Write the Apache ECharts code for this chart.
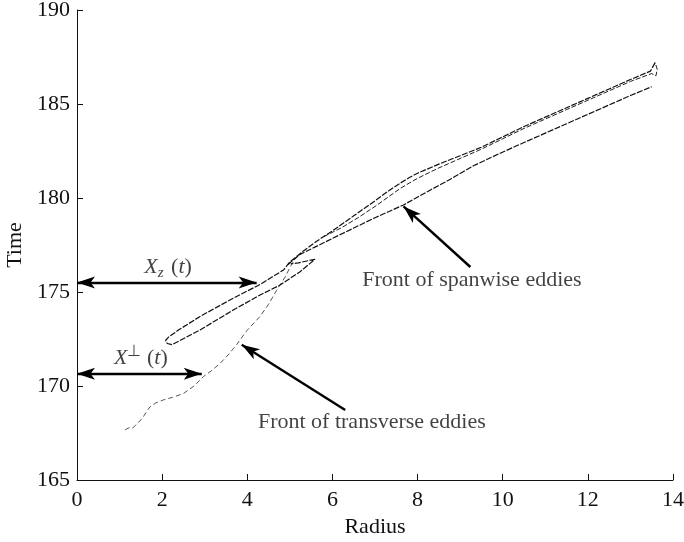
<!DOCTYPE html>
<html>
<head>
<meta charset="utf-8">
<script src="https://cdn.jsdelivr.net/npm/echarts@6/dist/echarts.min.js"></script>
<style>
  html, body { margin: 0; padding: 0; background: #fff; }
  #chart { width: 684px; height: 542px; }
</style>
</head>
<body>
<div id="chart"></div>
<script>
// Axis ranges and ticks
const radiusTicks = [0, 2, 4, 6, 8, 10, 12, 14];
const timeTicks = [165, 170, 175, 180, 185, 190];

// Front of transverse eddies: [radius, time]
const transverseFront = [
  [1.13, 167.66], [1.2, 167.76], [1.26, 167.8], [1.31, 167.77], [1.38, 167.92],
  [1.5, 168.2], [1.56, 168.37], [1.65, 168.7], [1.72, 168.9], [1.85, 169.1],
  [2.03, 169.26], [2.25, 169.4], [2.5, 169.6], [2.75, 170.0], [2.97, 170.5],
  [3.15, 170.8], [3.36, 171.2], [3.55, 171.65], [3.75, 172.2], [3.99, 172.95],
  [4.3, 173.7], [4.5, 174.35], [4.69, 175.1], [4.89, 175.8], [5.0, 176.3], [5.08, 176.6]
];

// Spanwise front, outer contour: upper line down to the closed lobe and back
const spanwiseUpper = [
  [13.58, 187.2], [13.47, 186.75], [13.0, 186.3], [12.5, 185.8], [12.0, 185.3],
  [11.5, 184.8], [11.0, 184.3], [10.5, 183.8], [10.0, 183.25], [9.5, 182.7],
  [9.0, 182.25], [8.5, 181.8], [8.0, 181.32], [7.8, 181.08], [7.6, 180.8],
  [7.3, 180.35], [7.0, 179.85], [6.5, 179.05], [6.0, 178.25], [5.63, 177.7],
  [5.3, 177.15], [5.0, 176.6], [4.85, 176.17], [4.3, 175.4], [3.67, 174.67],
  [2.89, 173.7], [2.4, 173.0], [2.15, 172.6], [2.08, 172.42], [2.12, 172.26],
  [2.23, 172.2], [2.89, 172.98], [3.67, 174.04], [4.3, 174.84], [4.77, 175.37],
  [5.24, 176.08], [5.59, 176.74], [5.2, 176.55], [5.02, 176.5]
];

// Spanwise front, inner sheet next to the upper line
const spanwiseInner = [
  [5.8, 177.95], [6.2, 178.4], [6.6, 178.95], [7.0, 179.55], [7.6, 180.52],
  [8.0, 181.05], [8.5, 181.6], [9.0, 182.1], [9.5, 182.6], [10.0, 183.15],
  [10.5, 183.7], [11.0, 184.2], [11.5, 184.7], [12.0, 185.2], [12.5, 185.7],
  [13.0, 186.2], [13.5, 186.62], [13.6, 186.5], [13.63, 186.85], [13.58, 187.2]
];

// Spanwise front, lower line
const spanwiseLower = [
  [4.95, 176.45], [5.24, 177.0], [5.6, 177.4], [6.0, 177.85], [6.5, 178.4],
  [7.0, 178.95], [7.67, 179.63], [8.2, 180.3], [8.77, 181.0], [9.3, 181.7],
  [9.94, 182.38], [10.5, 182.95], [11.0, 183.45], [11.5, 183.95], [12.0, 184.45],
  [12.5, 184.95], [13.0, 185.45], [13.5, 185.92]
];

// Annotation arrows: [startRadius, startTime, endRadius, endTime, doubleHeaded]
const arrows = [
  [0, 175.5, 4.22, 175.5, true],
  [0, 170.65, 2.93, 170.65, true],
  [6.3, 168.72, 3.87, 172.2, false],
  [9.24, 176.33, 7.67, 179.55, false]
];

// Annotation texts: [radius, time, text]
const notes = [
  [2.14, 176.3, '{i|X}{sub|z}{n| (}{i|t}{n|)}'],
  [1.5, 171.5, '{i|X}{sup|⊥}{n| (}{i|t}{n|)}'],
  [6.7, 175.62, 'Front of spanwise eddies'],
  [4.25, 168.05, 'Front of transverse eddies']
];

const FONT = "'Liberation Serif', 'Times New Roman', serif";
const INK = '#111';
const FS = 22;

const chart = echarts.init(document.getElementById('chart'), null, { renderer: 'canvas' });

const axisCommon = {
  axisLine: { show: true, lineStyle: { color: INK, width: 1 } },
  axisTick: { show: true, inside: true, length: 6, lineStyle: { color: INK, width: 1 } },
  splitLine: { show: false },
  axisLabel: { color: INK, fontFamily: FONT, fontSize: FS },
  nameTextStyle: { color: INK, fontFamily: FONT, fontSize: FS }
};

const curve = (name, data, color, width, dash) => ({
  name, type: 'line', data, showSymbol: false, symbol: 'none',
  smooth: false, silent: true, animation: false,
  lineStyle: { color, width, type: dash }
});

const textRich = {
  n: { fontFamily: FONT, fontSize: FS, color: INK },
  i: { fontFamily: FONT, fontSize: FS, fontStyle: 'italic', color: INK },
  sub: { fontFamily: FONT, fontSize: 15, fontStyle: 'italic', color: INK, padding: [11, 2, 0, 0] },
  sup: { fontFamily: FONT, fontSize: 16, color: INK, padding: [0, 0, 12, 0] }
};

chart.setOption({
  backgroundColor: '#fff',
  animation: false,
  grid: { left: 77, right: 11, top: 10, bottom: 62, outerBoundsMode: 'none', containLabel: false },
  xAxis: Object.assign({}, axisCommon, {
    type: 'value', min: radiusTicks[0], max: radiusTicks[radiusTicks.length - 1],
    interval: radiusTicks[1] - radiusTicks[0],
    name: 'Radius', nameLocation: 'middle', nameGap: 35,
    axisLabel: Object.assign({}, axisCommon.axisLabel, { margin: 9 })
  }),
  yAxis: Object.assign({}, axisCommon, {
    type: 'value', min: timeTicks[0], max: timeTicks[timeTicks.length - 1],
    interval: timeTicks[1] - timeTicks[0],
    name: 'Time', nameLocation: 'middle', nameGap: 49, nameRotate: 90,
    axisLabel: Object.assign({}, axisCommon.axisLabel, { margin: 7 })
  }),
  series: [
    curve('transverse', transverseFront, '#555', 1, [5, 3]),
    curve('spanwiseUpper', spanwiseUpper, '#111', 1.2, [6, 1.5]),
    curve('spanwiseInner', spanwiseInner, '#222', 1, [5, 2]),
    curve('spanwiseLower', spanwiseLower, '#111', 1.2, [6, 1.5]),
    {
      name: 'arrows', type: 'line', data: [], silent: true, animation: false,
      markLine: {
        silent: true, animation: false,
        symbol: ['none', 'arrow'], symbolSize: [9, 18],
        label: { show: false },
        lineStyle: { color: '#000', width: 2.4, type: 'solid' },
        data: arrows.map(a => [
          { coord: [a[0], a[1]], symbol: a[4] ? 'arrow' : 'none', symbolSize: [9, 18] },
          { coord: [a[2], a[3]], symbol: 'arrow', symbolSize: [9, 18] }
        ])
      }
    },
    {
      name: 'notes', type: 'scatter', silent: true, animation: false,
      symbolSize: 0,
      data: notes.map((n, k) => ({
        value: [n[0], n[1]], text: n[2],
        // captions start at their anchor, the X labels are centred on it
        label: k >= 2 ? { align: 'left', verticalAlign: 'middle' } : { align: 'center', verticalAlign: 'middle' }
      })),
      label: {
        show: true, position: 'inside',
        formatter: p => p.data.text,
        fontFamily: FONT, fontSize: FS, color: INK,
        rich: textRich
      }
    }
  ]
});
</script>
</body>
</html>
